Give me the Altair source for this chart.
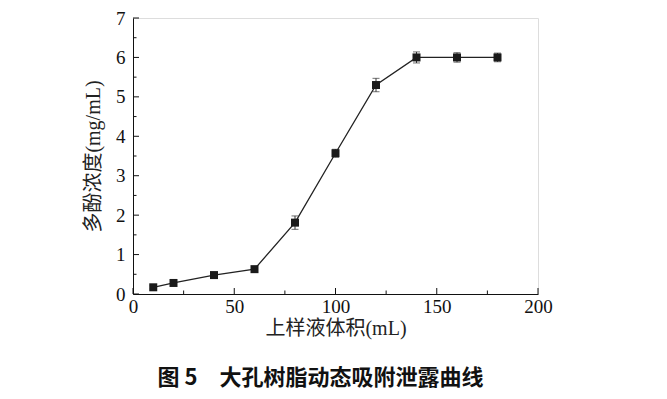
import altair as alt
import pandas as pd

volume = [10, 20, 40, 60, 80, 100, 120, 140, 160, 180]
conc = [0.17, 0.28, 0.48, 0.63, 1.81, 3.57, 5.30, 6.00, 6.00, 6.00]
err = [0.04, 0.04, 0.05, 0.05, 0.17, 0.10, 0.17, 0.14, 0.12, 0.11]

x_major = [0, 50, 100, 150, 200]
x_minor = [25, 75, 125, 175]
y_major = [0, 1, 2, 3, 4, 5, 6, 7]
y_minor = [0.5, 1.5, 2.5, 3.5, 4.5, 5.5, 6.5]

W, H = 405, 276
NUM_FONT = "Liberation Serif"
CJK_FONT = "Liberation Serif, Noto Sans CJK SC"

df = pd.DataFrame({"v": volume, "c": conc, "e": err})
df["lo"] = df["c"] - df["e"]
df["hi"] = df["c"] + df["e"]

xs = alt.Scale(domain=[0, 200], nice=False)
ys = alt.Scale(domain=[0, 7], nice=False)

xax = alt.Axis(values=x_major, tickSize=0, labelFont=NUM_FONT, labelFontSize=19,
               labelColor="#111", labelPadding=3, labelOverlap=False, labelFlush=False,
               domainColor="#111", domainWidth=1,
               title="上样液体积(mL)", titleFont=CJK_FONT, titleFontSize=20,
               titleFontWeight="normal", titleColor="#222", titlePadding=2, grid=False)
yax = alt.Axis(values=y_major, tickSize=0, labelFont=NUM_FONT, labelFontSize=19,
               labelColor="#111", labelPadding=8, labelOverlap=False, labelFlush=False,
               domainColor="#111", domainWidth=1,
               title="多酚浓度(mg/mL)", titleFont=CJK_FONT, titleFontSize=20,
               titleFontWeight="normal", titleColor="#222", titlePadding=12, grid=False)


def XE(f):
    return alt.X(f, scale=xs, axis=xax)


def YE(f):
    return alt.Y(f, scale=ys, axis=yax)


base = alt.Chart(df)

line = base.mark_line(color="#222", strokeWidth=1.3).encode(x=XE("v:Q"), y=YE("c:Q"))
bars = base.mark_rule(color="#333", strokeWidth=1).encode(x=XE("v:Q"), y=YE("lo:Q"), y2="hi:Q")
cap_lo = base.mark_tick(color="#333", thickness=1, size=7, orient="horizontal").encode(
    x=XE("v:Q"), y=YE("lo:Q"))
cap_hi = base.mark_tick(color="#333", thickness=1, size=7, orient="horizontal").encode(
    x=XE("v:Q"), y=YE("hi:Q"))
pts = base.mark_square(color="#1a1a1a", size=64, opacity=1, filled=True).encode(
    x=XE("v:Q"), y=YE("c:Q"))

xmaj = alt.Chart(pd.DataFrame({"t": x_major})).mark_rule(color="#111").encode(
    x=XE("t:Q"), y=alt.value(H), y2=alt.value(H - 6))
xmin = alt.Chart(pd.DataFrame({"t": x_minor})).mark_rule(color="#111").encode(
    x=XE("t:Q"), y=alt.value(H), y2=alt.value(H - 3.5))
ymaj = alt.Chart(pd.DataFrame({"t": y_major})).mark_rule(color="#111").encode(
    y=YE("t:Q"), x=alt.value(0), x2=alt.value(6))
ymin = alt.Chart(pd.DataFrame({"t": y_minor})).mark_rule(color="#111").encode(
    y=YE("t:Q"), x=alt.value(0), x2=alt.value(3.5))

chart = alt.layer(line, bars, cap_lo, cap_hi, pts, xmaj, xmin, ymaj, ymin).properties(
    width=W, height=H,
    title=alt.TitleParams("图 5　大孔树脂动态吸附泄露曲线", orient="bottom", anchor="middle",
                          offset=30, dx=-15, font="Noto Sans CJK SC", fontSize=22,
                          fontWeight="bold", color="#111"),
    autosize=alt.AutoSizeParams(type="none"),
    padding={"left": 125, "top": 10, "right": 120, "bottom": 103},
).configure_view(stroke=None).configure(background="white")

chart.save("out.html", embed_options={"renderer": "svg", "actions": False})
